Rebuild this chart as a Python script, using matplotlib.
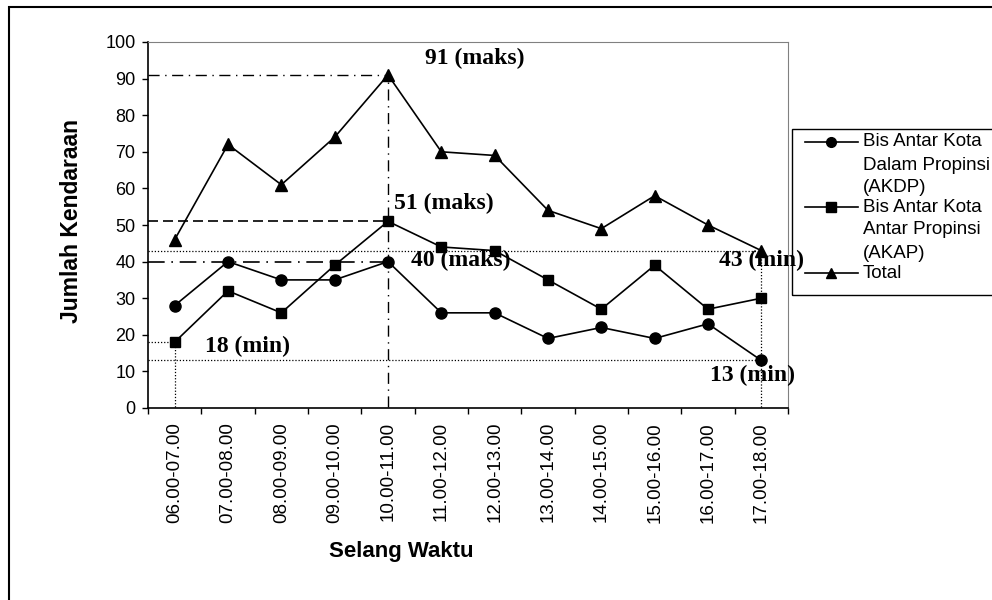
import matplotlib
matplotlib.use("Agg")
import matplotlib.pyplot as plt
from matplotlib.lines import Line2D
from matplotlib.patches import Rectangle

# data
slots = ['06.00-07.00', '07.00-08.00', '08.00-09.00', '09.00-10.00',
         '10.00-11.00', '11.00-12.00', '12.00-13.00', '13.00-14.00',
         '14.00-15.00', '15.00-16.00', '16.00-17.00', '17.00-18.00']
akdp = [28, 40, 35, 35, 40, 26, 26, 19, 22, 19, 23, 13]
akap = [18, 32, 26, 39, 51, 44, 43, 35, 27, 39, 27, 30]
total = [46, 72, 61, 74, 91, 70, 69, 54, 49, 58, 50, 43]
labels = ['Bis Antar Kota\nDalam Propinsi\n(AKDP)',
          'Bis Antar Kota\nAntar Propinsi\n(AKAP)',
          'Total']
markers = ['o', 's', '^']

sans = 'Liberation Sans'
serif = 'Liberation Serif'

W, H = 992, 600
fig = plt.figure(figsize=(W / 100, H / 100), dpi=100)
ax = fig.add_axes([148 / W, 1 - 408 / H, 640 / W, 366 / H])

x = list(range(len(slots)))
ax.plot(x, akdp, color='black', lw=1.2, marker='o', ms=8)
ax.plot(x, akap, color='black', lw=1.2, marker='s', ms=7.5)
ax.plot(x, total, color='black', lw=1.2, marker='^', ms=9)

# max / min reference lines
imax = total.index(max(total))
ax.plot([-0.5, imax], [total[imax]] * 2, color='black', lw=1, ls=(0, (8, 4, 1, 4)))
ax.plot([imax, imax], [0.4, total[imax]], color='black', lw=1, ls=(0, (8, 4, 1, 4)))
ax.plot([-0.5, imax], [akap[imax]] * 2, color='black', lw=1.2, ls=(0, (6, 3)))
ax.plot([-0.5, imax], [akdp[imax]] * 2, color='black', lw=1.2, ls=(0, (10, 4, 1, 4)))
last = len(slots) - 1
ax.plot([-0.5, last], [total[last]] * 2, color='black', lw=0.9, ls=(0, (1, 1.5)))
ax.plot([-0.5, last], [akdp[last]] * 2, color='black', lw=0.9, ls=(0, (1, 1.5)))
ax.plot([last, last], [0.4, total[last]], color='black', lw=0.9, ls=(0, (1, 1.5)))
ax.plot([-0.5, 0], [akap[0]] * 2, color='black', lw=0.9, ls=(0, (1, 1.5)))
ax.plot([0, 0], [0.4, akap[0]], color='black', lw=0.9, ls=(0, (1, 1.5)))

# annotations
ann = dict(fontsize=17, fontweight='bold', family=serif, ha='center', va='center')
ax.text(5.63, 95.6, '%d (maks)' % total[imax], **ann)
ax.text(5.05, 56, '%d (maks)' % akap[imax], **ann)
ax.text(5.37, 40.4, '%d (maks)' % akdp[imax], **ann)
ax.text(1.37, 16.7, '%d (min)' % akap[0], **ann)
ax.text(11.01, 40.4, '%d (min)' % total[last], **ann)
ax.text(10.83, 9.0, '%d (min)' % akdp[last], **ann)

# axes styling
ax.set_xlim(-0.5, 11.5)
ax.set_ylim(0, 100)
ax.set_yticks(range(0, 101, 10))
ax.set_xticks(x)
ax.set_xticklabels(slots, rotation=90, fontsize=13.5, family=sans, va='top')
ax.set_xticks([i - 0.5 for i in range(len(slots) + 1)], minor=True)
ax.tick_params(axis='x', which='major', length=0, pad=10)
ax.tick_params(axis='x', which='minor', length=4, width=1, direction='out')
ax.tick_params(axis='y', length=4, width=1, direction='out', pad=5, labelsize=13)
for t in ax.get_yticklabels():
    t.set_family(sans)
for s in ['top', 'right']:
    ax.spines[s].set_color('#808080')
for s in ['left', 'bottom']:
    ax.spines[s].set_linewidth(1.2)

ax.set_xlabel('Selang Waktu', fontsize=16, fontweight='bold', family=sans)
ax.xaxis.set_label_coords((401 - 148) / 640, (408 - 551) / 366)
ax.xaxis.label.set_va('center')
ax.set_ylabel('Jumlah Kendaraan', fontsize=16.5, fontweight='bold', family=sans)
ax.yaxis.set_label_coords((72 - 148) / 640, (408 - 221) / 366)
ax.yaxis.label.set_va('center')

# outer chart frame
fig.patches.append(Rectangle((9 / W, -0.1), 1.2, 1 - 7 / H + 0.1, fill=False,
                             ec='black', lw=1.5, transform=fig.transFigure))

# legend drawn by hand (multi-line labels hang below each handle)
fig.patches.append(Rectangle((792 / W, 1 - 295 / H), 0.3, (295 - 129) / H, fill=False,
                             ec='black', lw=1, transform=fig.transFigure))
entry_y = [142, 207, 273]
for lab, m, ey in zip(labels, markers, entry_y):
    fig.add_artist(Line2D([805 / W, 858 / W], [1 - ey / H] * 2, color='black', lw=1.2,
                          transform=fig.transFigure))
    fig.add_artist(Line2D([831 / W], [1 - ey / H], color='black', marker=m, ms=7,
                          transform=fig.transFigure))
    for k, line in enumerate(lab.split('\n')):
        fig.text(863 / W, 1 - (ey + k * 23) / H, line, fontsize=13.5, family=sans,
                 ha='left', va='center')

fig.savefig('out.png', dpi=100)
